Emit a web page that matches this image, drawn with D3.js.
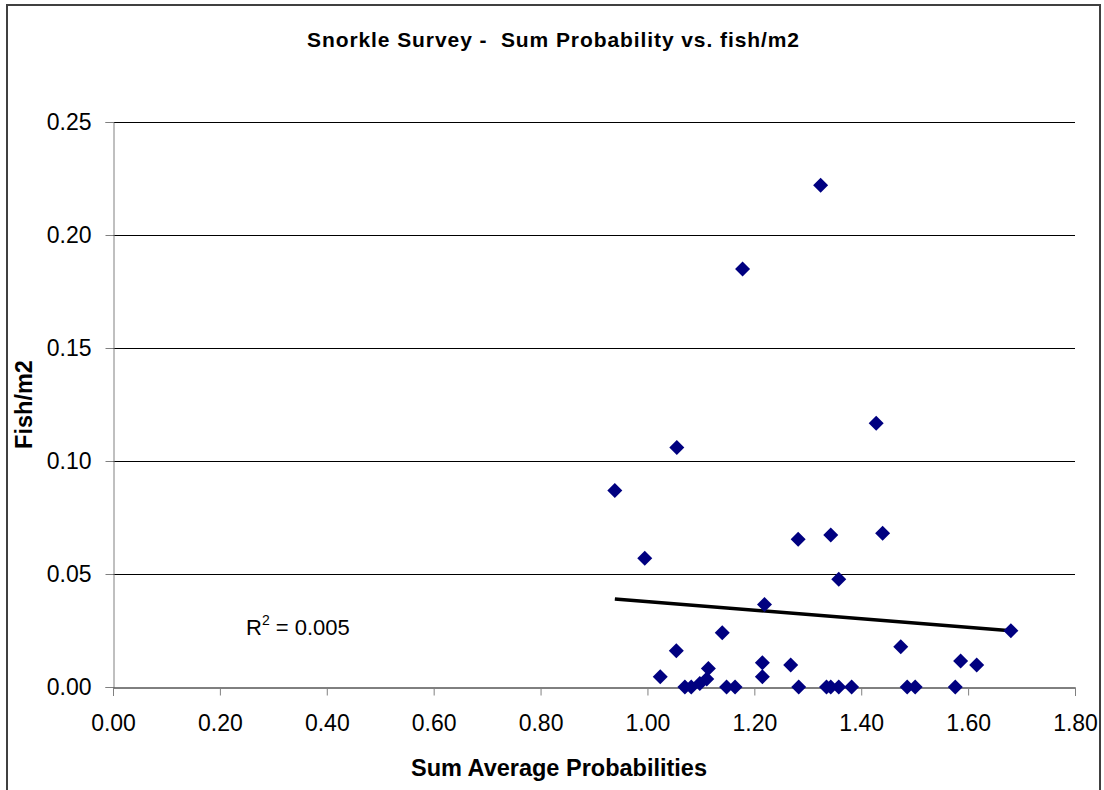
<!DOCTYPE html>
<html>
<head>
<meta charset="utf-8">
<script src="https://cdn.jsdelivr.net/npm/d3@7"></script>
<style>
  body { margin: 0; background: #fff; }
  text { font-family: "Liberation Sans", Arial, sans-serif; fill: #000; }
</style>
</head>
<body>
<div id="chart"></div>
<script>
// x = sum of average probabilities, y = fish per m2
var sumProb = [0.939, 0.995, 1.024, 1.054, 1.055, 1.070, 1.082, 1.098, 1.111, 1.114,
    1.140, 1.148, 1.164, 1.178, 1.215, 1.215, 1.219, 1.268, 1.282, 1.283,
    1.324, 1.335, 1.343, 1.343, 1.358, 1.358, 1.382, 1.428, 1.440, 1.474,
    1.486, 1.501, 1.576, 1.586, 1.616, 1.680];
var fishM2 = [0.087, 0.057, 0.0045, 0.016, 0.106, 0, 0, 0.0016, 0.0035, 0.0082,
    0.024, 0, 0, 0.185, 0.0107, 0.0045, 0.0365, 0.0097, 0.0654, 0,
    0.222, 0, 0, 0.0673, 0, 0.0477, 0, 0.1167, 0.068, 0.0178,
    0, 0, 0, 0.0115, 0.0097, 0.0249];
var trendX = [0.939, 1.680];
var trendY = [0.0389, 0.0249];
var xTicks = [0, 0.2, 0.4, 0.6, 0.8, 1.0, 1.2, 1.4, 1.6, 1.8];
var yTicks = [0, 0.05, 0.10, 0.15, 0.20, 0.25];

var width = 1104, height = 790;
var margin = { left: 113, right: 29, top: 122, bottom: 103 };

var svg = d3.select("#chart").append("svg")
    .attr("width", width)
    .attr("height", height);

// chart border
svg.append("rect")
    .attr("x", 7).attr("y", 5)
    .attr("width", 1093).attr("height", 800)
    .attr("fill", "none")
    .attr("stroke", "#404040")
    .attr("stroke-width", 2);

var x = d3.scaleLinear().domain([0, 1.8]).range([margin.left, width - margin.right]);
var y = d3.scaleLinear().domain([0, 0.25]).range([height - margin.bottom, margin.top]);

// gridlines
svg.append("g")
    .selectAll("line")
    .data(yTicks.slice(1))
    .enter().append("line")
    .attr("x1", x(0)).attr("x2", x(1.8))
    .attr("y1", function (d) { return Math.round(y(d)) + 0.5; })
    .attr("y2", function (d) { return Math.round(y(d)) + 0.5; })
    .attr("stroke", "#000")
    .attr("stroke-width", 1);

// y axis
var yAxis = svg.append("g")
    .attr("transform", "translate(" + (x(0) + 0.5) + ",0)")
    .call(d3.axisLeft(y).tickValues(yTicks).tickSize(8).tickPadding(14)
        .tickFormat(d3.format(".2f")));
yAxis.select(".domain").attr("stroke", "#808080");
yAxis.selectAll(".tick line").attr("stroke", "#808080");
yAxis.selectAll(".tick text").attr("font-size", 23).attr("font-family", "Liberation Sans, Arial, sans-serif");

// x axis
var xAxis = svg.append("g")
    .attr("transform", "translate(0," + (Math.round(y(0)) + 0.5) + ")")
    .call(d3.axisBottom(x).tickValues(xTicks).tickSize(8).tickPadding(19)
        .tickFormat(d3.format(".2f")));
xAxis.select(".domain").attr("stroke", "#000");
xAxis.selectAll(".tick line").attr("stroke", "#808080");
xAxis.selectAll(".tick text").attr("font-size", 23).attr("font-family", "Liberation Sans, Arial, sans-serif");

// trendline
svg.append("path")
    .datum(d3.zip(trendX, trendY))
    .attr("fill", "none")
    .attr("stroke", "#000")
    .attr("stroke-width", 3.5)
    .attr("d", d3.line()
        .x(function (d) { return x(d[0]); })
        .y(function (d) { return y(d[1]); }));

// markers
var r = 7.5;
svg.append("g")
    .selectAll("path")
    .data(d3.zip(sumProb, fishM2))
    .enter().append("path")
    .attr("fill", "#000080")
    .attr("d", function (d) {
        var cx = x(d[0]), cy = y(d[1]);
        return "M" + cx + "," + (cy - r) + "L" + (cx + r) + "," + cy +
            "L" + cx + "," + (cy + r) + "L" + (cx - r) + "," + cy + "Z";
    });

// R squared label
var rl = svg.append("text")
    .attr("x", 246).attr("y", 635)
    .attr("font-size", 22);
rl.append("tspan").text("R");
rl.append("tspan").attr("font-size", 14).attr("dy", -10).text("2");
rl.append("tspan").attr("dy", 10).text(" = 0.005");

// title
svg.append("text")
    .attr("x", 553).attr("y", 47)
    .attr("text-anchor", "middle")
    .attr("font-size", 21)
    .attr("font-weight", "bold")
    .attr("textLength", 492)
    .attr("lengthAdjust", "spacing")
    .text("Snorkle Survey -  Sum Probability vs. fish/m2")
    .style("white-space", "pre");

// axis titles
svg.append("text")
    .attr("x", 559).attr("y", 776)
    .attr("text-anchor", "middle")
    .attr("font-size", 23.5)
    .attr("font-weight", "bold")
    .text("Sum Average Probabilities");

svg.append("text")
    .attr("transform", "translate(32," + ((y(0) + y(0.25)) / 2) + ") rotate(-90)")
    .attr("text-anchor", "middle")
    .attr("font-size", 23.5)
    .attr("font-weight", "bold")
    .text("Fish/m2");
</script>
</body>
</html>
